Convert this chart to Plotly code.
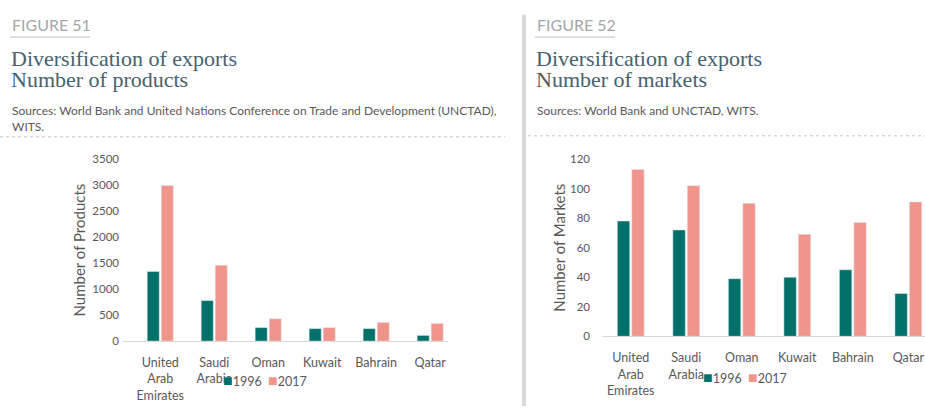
import plotly.graph_objects as go

categories = ["United<br>Arab<br>Emirates", "Saudi<br>Arabia", "Oman", "Kuwait", "Bahrain", "Qatar"]
products_1996 = [1340, 780, 260, 240, 240, 110]
products_2017 = [2990, 1460, 430, 260, 360, 340]
markets_1996 = [78, 72, 39, 40, 45, 29]
markets_2017 = [113, 102, 90, 69, 77, 91]
series_names = ["1996", "2017"]

TEAL = "#03706a"
SALMON = "#f0958b"
GRAY = "#595959"
TITLE_C = "#46626f"
W, H = 925, 412
FONT = "Lato"

def px(x):
    return x / W

def py(y):
    return 1 - y / H

fig = go.Figure()
fig.add_trace(go.Bar(x=categories, y=products_1996, name=series_names[0], marker_color=TEAL,
                     xaxis="x", yaxis="y"))
fig.add_trace(go.Bar(x=categories, y=products_2017, name=series_names[1], marker_color=SALMON,
                     xaxis="x", yaxis="y"))
fig.add_trace(go.Bar(x=categories, y=markets_1996, name=series_names[0], marker_color=TEAL,
                     xaxis="x2", yaxis="y2"))
fig.add_trace(go.Bar(x=categories, y=markets_2017, name=series_names[1], marker_color=SALMON,
                     xaxis="x2", yaxis="y2"))

xtickfont = dict(family=FONT, size=12.5, color=GRAY)
ytickfont = dict(family=FONT, size=11.5, color=GRAY)
xcommon = dict(type="category", showgrid=False, zeroline=False, showline=True,
               linecolor="#d9d9d9", linewidth=1, ticks="", tickfont=xtickfont,
               ticklabelstandoff=10, fixedrange=True)
ycommon = dict(showgrid=False, zeroline=False, showline=False, ticks="",
               tickfont=ytickfont, fixedrange=True)

fig.update_layout(
    autosize=True,
    margin=dict(l=0, r=0, t=0, b=0),
    paper_bgcolor="white", plot_bgcolor="white",
    showlegend=False,
    barmode="group", bargap=0.48, bargroupgap=0.14,
    xaxis=dict(xcommon, domain=[px(123), px(448)], range=[-0.69, 5.33], anchor="y"),
    yaxis=dict(ycommon, domain=[py(345), py(157)], range=[0, 3500], dtick=500,
               anchor="x", ticklabelstandoff=3,
               title=dict(text="Number of Products", standoff=3,
                          font=dict(family=FONT, size=15, color=GRAY))),
    xaxis2=dict(xcommon, domain=[px(603), 1.0], range=[-0.5, 5.3], anchor="y2"),
    yaxis2=dict(ycommon, domain=[py(340), py(157)], range=[0, 120], dtick=20,
                anchor="x2", ticklabelstandoff=12,
                title=dict(text="Number of Markets", standoff=0,
                           font=dict(family=FONT, size=15, color=GRAY))),
)

annotations = []
shapes = []
for x0, fig_no, sub, src_lines in [
    (10, "FIGURE 51", "Number of products",
     ["Sources: World Bank and United Nations Conference on Trade and Development (UNCTAD),", "WITS."]),
    (535, "FIGURE 52", "Number of markets", ["Sources: World Bank and UNCTAD, WITS."]),
]:
    annotations.append(dict(text=fig_no, x=px(x0), y=py(18), xref="paper", yref="paper",
                            xanchor="left", yanchor="middle", showarrow=False,
                            font=dict(family=FONT, size=16, color="#a6a6a6")))
    for i, line in enumerate(["Diversification of exports", sub]):
        annotations.append(dict(text=line, x=px(x0 - 1), y=py(53 + 22 * i), xref="paper",
                                yref="paper", xanchor="left", yanchor="middle",
                                showarrow=False,
                                font=dict(family="Liberation Serif", size=22, color=TITLE_C)))
    for i, line in enumerate(src_lines):
        annotations.append(dict(text=line, x=px(x0), y=py(107 + 16 * i), xref="paper",
                                yref="paper", xanchor="left", yanchor="middle",
                                showarrow=False,
                                font=dict(family=FONT, size=12, color=GRAY)))
    shapes.append(dict(type="line", xref="paper", yref="paper", x0=px(x0), x1=px(x0 + 80),
                       y0=py(31), y1=py(31), line=dict(color="#bfbfbf", width=1)))

# legends drawn as text below each chart
for lx, ly in [(221, 385), (701, 382)]:
    annotations.append(dict(
        text=(f"<span style='color:{TEAL};font-size:16px'>■</span>{series_names[0]}  "
              f"<span style='color:{SALMON};font-size:16px'>■</span>{series_names[1]}"),
        x=px(lx), y=py(ly), xref="paper", yref="paper", xanchor="left", yanchor="middle",
        showarrow=False, font=dict(family=FONT, size=12.5, color=GRAY)))

shapes.append(dict(type="line", xref="paper", yref="paper", x0=0, x1=px(505),
                   y0=py(134), y1=py(134), line=dict(color="#c8c8c8", width=1, dash="dot")))
shapes.append(dict(type="line", xref="paper", yref="paper", x0=px(528), x1=1,
                   y0=py(133), y1=py(133), line=dict(color="#c8c8c8", width=1, dash="dot")))
shapes.append(dict(type="rect", xref="paper", yref="paper", x0=px(522), x1=px(526),
                   y0=0, y1=py(8), line=dict(width=0), fillcolor="#d9d9d9"))

fig.update_layout(annotations=annotations, shapes=shapes)
fig.write_html("out.html", default_width="100vw", default_height="100vh",
               config={"displayModeBar": False},
               post_script="document.body.style.margin='0px';document.body.style.overflow='hidden';")
